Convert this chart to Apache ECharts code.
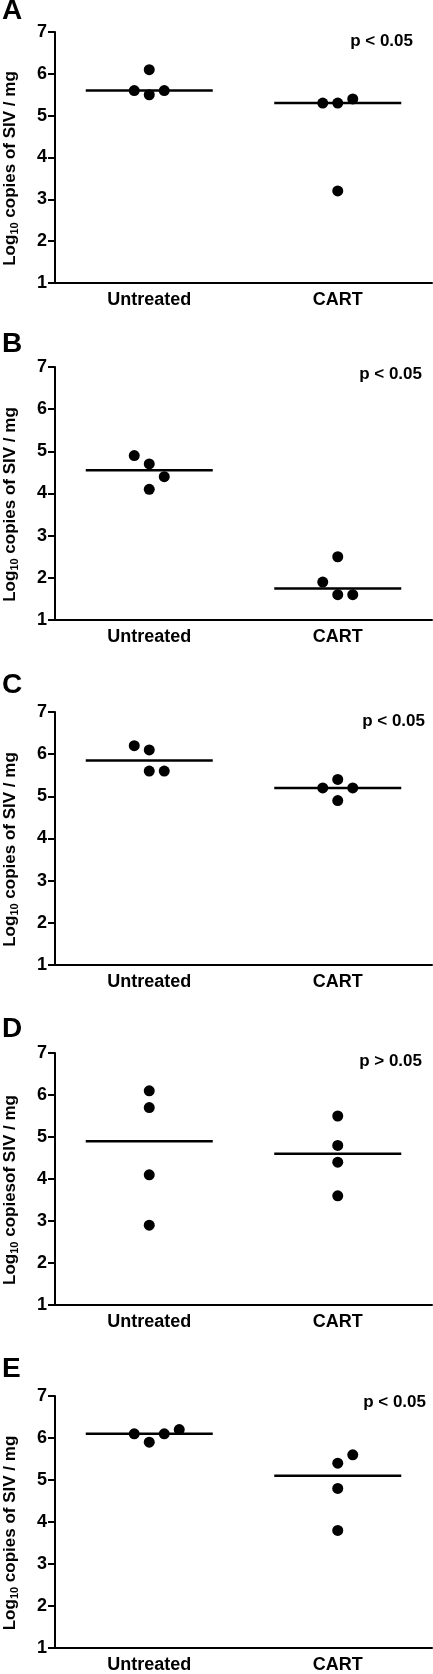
<!DOCTYPE html>
<html>
<head>
<meta charset="utf-8">
<script src="https://cdn.jsdelivr.net/npm/echarts@6/dist/echarts.min.js"></script>
<style>
html,body{margin:0;padding:0;background:#fff;}
#chart{width:433px;height:1674px;}
</style>
</head>
<body>
<div id="chart"></div>
<script>
// ---- data ----
const categories = ['Untreated', 'CART'];
const panelLetters = ['A', 'B', 'C', 'D', 'E'];
const pLabels = ['p < 0.05', 'p < 0.05', 'p < 0.05', 'p > 0.05', 'p < 0.05'];
const yNameRest = [' copies of SIV / mg', ' copies of SIV / mg', ' copies of SIV / mg', ' copiesof SIV / mg', ' copies of SIV / mg'];

const A_untreated = [6.1, 5.6, 5.5, 5.6];
const A_cart      = [5.3, 5.3, 5.4, 3.2];
const A_median    = [5.6, 5.3];

const B_untreated = [4.9, 4.7, 4.4, 4.1];
const B_cart      = [2.5, 1.9, 1.6, 1.6];
const B_median    = [4.55, 1.75];

const C_untreated = [6.2, 6.1, 5.6, 5.6];
const C_cart      = [5.4, 5.2, 5.2, 4.9];
const C_median    = [5.85, 5.2];

const D_untreated = [6.1, 5.7, 4.1, 2.9];
const D_cart      = [5.5, 4.8, 4.4, 3.6];
const D_median    = [4.9, 4.6];

const E_untreated = [6.1, 5.9, 6.1, 6.2];
const E_cart      = [5.4, 5.6, 4.8, 3.8];
const E_median    = [6.1, 5.1];

const yMin = 1, yMax = 7, yInterval = 1;

// ---- styling / layout (not data) ----
const untreatedJitter = [[0,-15,0,15],[-15,0,15,0],[-15,0,0,15],[0,0,0,0],[-15,0,15,30]];
const cartJitter      = [[-15,0,15,0],[0,-15,0,15],[0,-15,15,0],[0,0,0,0],[0,15,0,0]];
const gridTops    = [32, 367, 712, 1053, 1396];
const gridHeights = [251, 253, 253, 252, 252];
const letterY = [13.3, 346, 687, 1031, 1371];
const pPos = [[413, 41], [422, 374], [425, 721], [422, 1061.5], [426, 1402]];

const panels = [
  [A_untreated, A_cart, A_median],
  [B_untreated, B_cart, B_median],
  [C_untreated, C_cart, C_median],
  [D_untreated, D_cart, D_median],
  [E_untreated, E_cart, E_median]
];

const FONT = '"Liberation Sans", Arial, Helvetica, sans-serif';
const grids = [], xAxes = [], yAxes = [], series = [], graphics = [];

panels.forEach((p, i) => {
  grids.push({
    left: 55, right: 1, top: gridTops[i], height: gridHeights[i],
    containLabel: false, outerBoundsMode: 'none'
  });
  xAxes.push({
    type: 'category', gridIndex: i, data: categories, boundaryGap: true,
    axisLine: { lineStyle: { color: '#000', width: 2 } },
    axisTick: { alignWithLabel: true, length: 7, lineStyle: { color: '#000', width: 2 } },
    axisLabel: { color: '#000', fontFamily: FONT, fontWeight: 'bold', fontSize: 18, margin: 8 },
    splitLine: { show: false }
  });
  yAxes.push({
    type: 'value', gridIndex: i, min: yMin, max: yMax, interval: yInterval,
    axisLine: { show: true, lineStyle: { color: '#000', width: 2 } },
    axisTick: { show: true, length: 7, lineStyle: { color: '#000', width: 2 } },
    axisLabel: { color: '#000', fontFamily: FONT, fontWeight: 'bold', fontSize: 18, margin: 8 },
    splitLine: { show: false },
    name: '{a|Log}{s|10}{a|' + yNameRest[i] + '}',
    nameLocation: 'middle', nameRotate: 90, nameGap: 35,
    nameTextStyle: {
      color: '#000',
      padding: [0, 22, 0, 0],
      rich: {
        a: { fontFamily: FONT, fontWeight: 'bold', fontSize: 17, color: '#000' },
        s: { fontFamily: FONT, fontWeight: 'bold', fontSize: 11, color: '#000', padding: [8, 0, 0, 0] }
      }
    }
  });
  const dots = [];
  p[0].forEach((v, k) => dots.push({ value: [categories[0], v], symbolOffset: [untreatedJitter[i][k], 0] }));
  p[1].forEach((v, k) => dots.push({ value: [categories[1], v], symbolOffset: [cartJitter[i][k], 0] }));
  series.push({
    type: 'scatter', xAxisIndex: i, yAxisIndex: i, data: dots,
    symbol: 'circle', symbolSize: 11, itemStyle: { color: '#000', opacity: 1 }, silent: true, z: 3
  });
  series.push({
    type: 'scatter', xAxisIndex: i, yAxisIndex: i,
    data: p[2].map((m, k) => [categories[k], m]),
    symbol: 'rect', symbolSize: [127, 2.5], itemStyle: { color: '#000', opacity: 1 }, silent: true, z: 2
  });
  graphics.push({
    type: 'text', left: 2, top: letterY[i] - 16,
    style: { text: panelLetters[i], fill: '#000', font: 'bold 28px ' + FONT }
  });
  graphics.push({
    type: 'text', x: pPos[i][0], y: pPos[i][1],
    style: { text: pLabels[i], fill: '#000', font: 'bold 17px ' + FONT, align: 'right', verticalAlign: 'middle' }
  });
});

const chart = echarts.init(document.getElementById('chart'), null, { renderer: 'canvas' });
chart.setOption({
  backgroundColor: '#fff',
  animation: false,
  grid: grids, xAxis: xAxes, yAxis: yAxes, series: series, graphic: graphics
});
</script>
</body>
</html>
